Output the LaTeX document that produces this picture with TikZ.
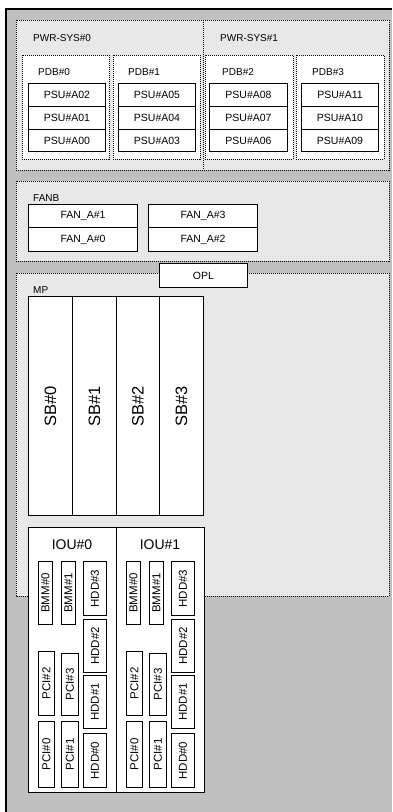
\documentclass[tikz,border=0pt]{standalone}
\usepackage{fontspec}
\usepackage{graphicx}
\setmainfont{Liberation Sans}
\definecolor{outergray}{HTML}{C0C0C0}
\definecolor{areagray}{HTML}{E8E8E8}
\tikzset{
  area/.style={draw=black, fill=areagray, line width=0.8pt, dash pattern=on 1pt off 1pt},
  pdb/.style={draw=black, fill=white, line width=0.8pt, dash pattern=on 1pt off 1pt},
  box/.style={draw=black, fill=white, line width=1pt, inner sep=0pt, anchor=north west, font=\fontsize{10.5}{12}\selectfont},
  sbox/.style={box, font=\fontsize{11.5}{12}\selectfont},
  bigbox/.style={box, font=\fontsize{16.5}{18}\selectfont},
  lbl/.style={anchor=west, inner sep=0pt, font=\fontsize{10}{12}\selectfont}
}
% \bx{name}{x1}{y1}{x2}{y2}{style}{text}
\newcommand{\bx}[7]{\node[#6, minimum width={(#4-#2)*1pt}, minimum height={(#5-#3)*1pt}] (#1) at (#2,#3) {#7};}
\newcommand{\rbx}[7]{\node[#6, minimum width={(#4-#2)*1pt}, minimum height={(#5-#3)*1pt}] (#1) at (#2,#3) {\rotatebox{90}{#7}};}
\begin{document}
\begin{tikzpicture}[x=1pt,y=-1pt]
\useasboundingbox (0,0) rectangle (392,812);
% outer frame
\fill[outergray] (6,9) rectangle (392,812);
\draw[line width=1.3pt] (6,812) -- (6,9) -- (392,9);
% PWR-SYS
\draw[area] (16,20) rectangle (389,170);
\coordinate (divtop) at (203,20);
\coordinate (divbot) at (203,170);
\draw[pdb] (22,55) rectangle (109,159);
\draw[pdb] (113,55) rectangle (200,159);
\draw[pdb] (205,55) rectangle (293,159);
\draw[pdb] (296,55) rectangle (384,159);
\draw[line width=0.8pt, dash pattern=on 1pt off 1pt] (divtop) -- (divbot);
\node[lbl] (pwr0) at (33,38) {PWR-SYS\#0};
\node[lbl] (pwr1) at (220,38) {PWR-SYS\#1};
\node[lbl] (pdb0) at (38,72) {PDB\#0};
\node[lbl] (pdb1) at (128,72) {PDB\#1};
\node[lbl] (pdb2) at (222,72) {PDB\#2};
\node[lbl] (pdb3) at (312,72) {PDB\#3};
\bx{a02}{28}{83}{105}{106}{box}{PSU\#A02}
\bx{a01}{28}{106}{105}{129}{box}{PSU\#A01}
\bx{a00}{28}{129}{105}{151}{box}{PSU\#A00}
\bx{a05}{118}{83}{195}{106}{box}{PSU\#A05}
\bx{a04}{118}{106}{195}{129}{box}{PSU\#A04}
\bx{a03}{118}{129}{195}{151}{box}{PSU\#A03}
\bx{a08}{209}{83}{287}{106}{box}{PSU\#A08}
\bx{a07}{209}{106}{287}{129}{box}{PSU\#A07}
\bx{a06}{209}{129}{287}{151}{box}{PSU\#A06}
\bx{a11}{301}{83}{378}{106}{box}{PSU\#A11}
\bx{a10}{301}{106}{378}{129}{box}{PSU\#A10}
\bx{a09}{301}{129}{378}{151}{box}{PSU\#A09}
% FANB
\draw[area] (16,181) rectangle (389,261);
\node[lbl] (fanb) at (33,198) {FANB};
\bx{f1}{28}{204}{137}{227}{box}{FAN\_A\#1}
\bx{f0}{28}{227}{137}{251}{box}{FAN\_A\#0}
\bx{f3}{148}{204}{257}{227}{box}{FAN\_A\#3}
\bx{f2}{148}{227}{257}{251}{box}{FAN\_A\#2}
% MP
\draw[area] (16,273) rectangle (389,596);
\bx{opl}{159}{263}{247}{287}{box}{OPL}
\node[lbl] (mp) at (33,290) {MP};
\rbx{sb0}{28}{296}{72}{515}{bigbox}{SB\#0}
\rbx{sb1}{72}{296}{116}{515}{bigbox}{SB\#1}
\rbx{sb2}{116}{296}{159}{515}{bigbox}{SB\#2}
\rbx{sb3}{159}{296}{203}{515}{bigbox}{SB\#3}
% IOUs
\foreach \i/\dx in {0/0,1/88}{
  \begin{scope}[xshift=\dx pt]
  \draw[line width=1pt, fill=white] (28,527) rectangle (116,792);
  \node[inner sep=0pt, font=\fontsize{14}{16}\selectfont] (iou\i) at (72,545) {IOU\#\i};
  \rbx{bmma\i}{38}{561}{52}{624}{sbox}{BMM\#0}
  \rbx{bmmb\i}{61}{561}{75}{624}{sbox}{BMM\#1}
  \rbx{hddd\i}{83}{561}{106}{615}{sbox}{HDD\#3}
  \rbx{hddc\i}{83}{619}{106}{672}{sbox}{HDD\#2}
  \rbx{hddb\i}{83}{675}{106}{728}{sbox}{HDD\#1}
  \rbx{hdda\i}{83}{733}{106}{787}{sbox}{HDD\#0}
  \rbx{pcic\i}{38}{651}{54}{715}{sbox}{PCI\#2}
  \rbx{pcid\i}{61}{653}{78}{715}{sbox}{PCI\#3}
  \rbx{pcia\i}{38}{721}{54}{787}{sbox}{PCI\#0}
  \rbx{pcib\i}{61}{721}{78}{787}{sbox}{PCI\#1}
  \end{scope}
}
\end{tikzpicture}
\end{document}
